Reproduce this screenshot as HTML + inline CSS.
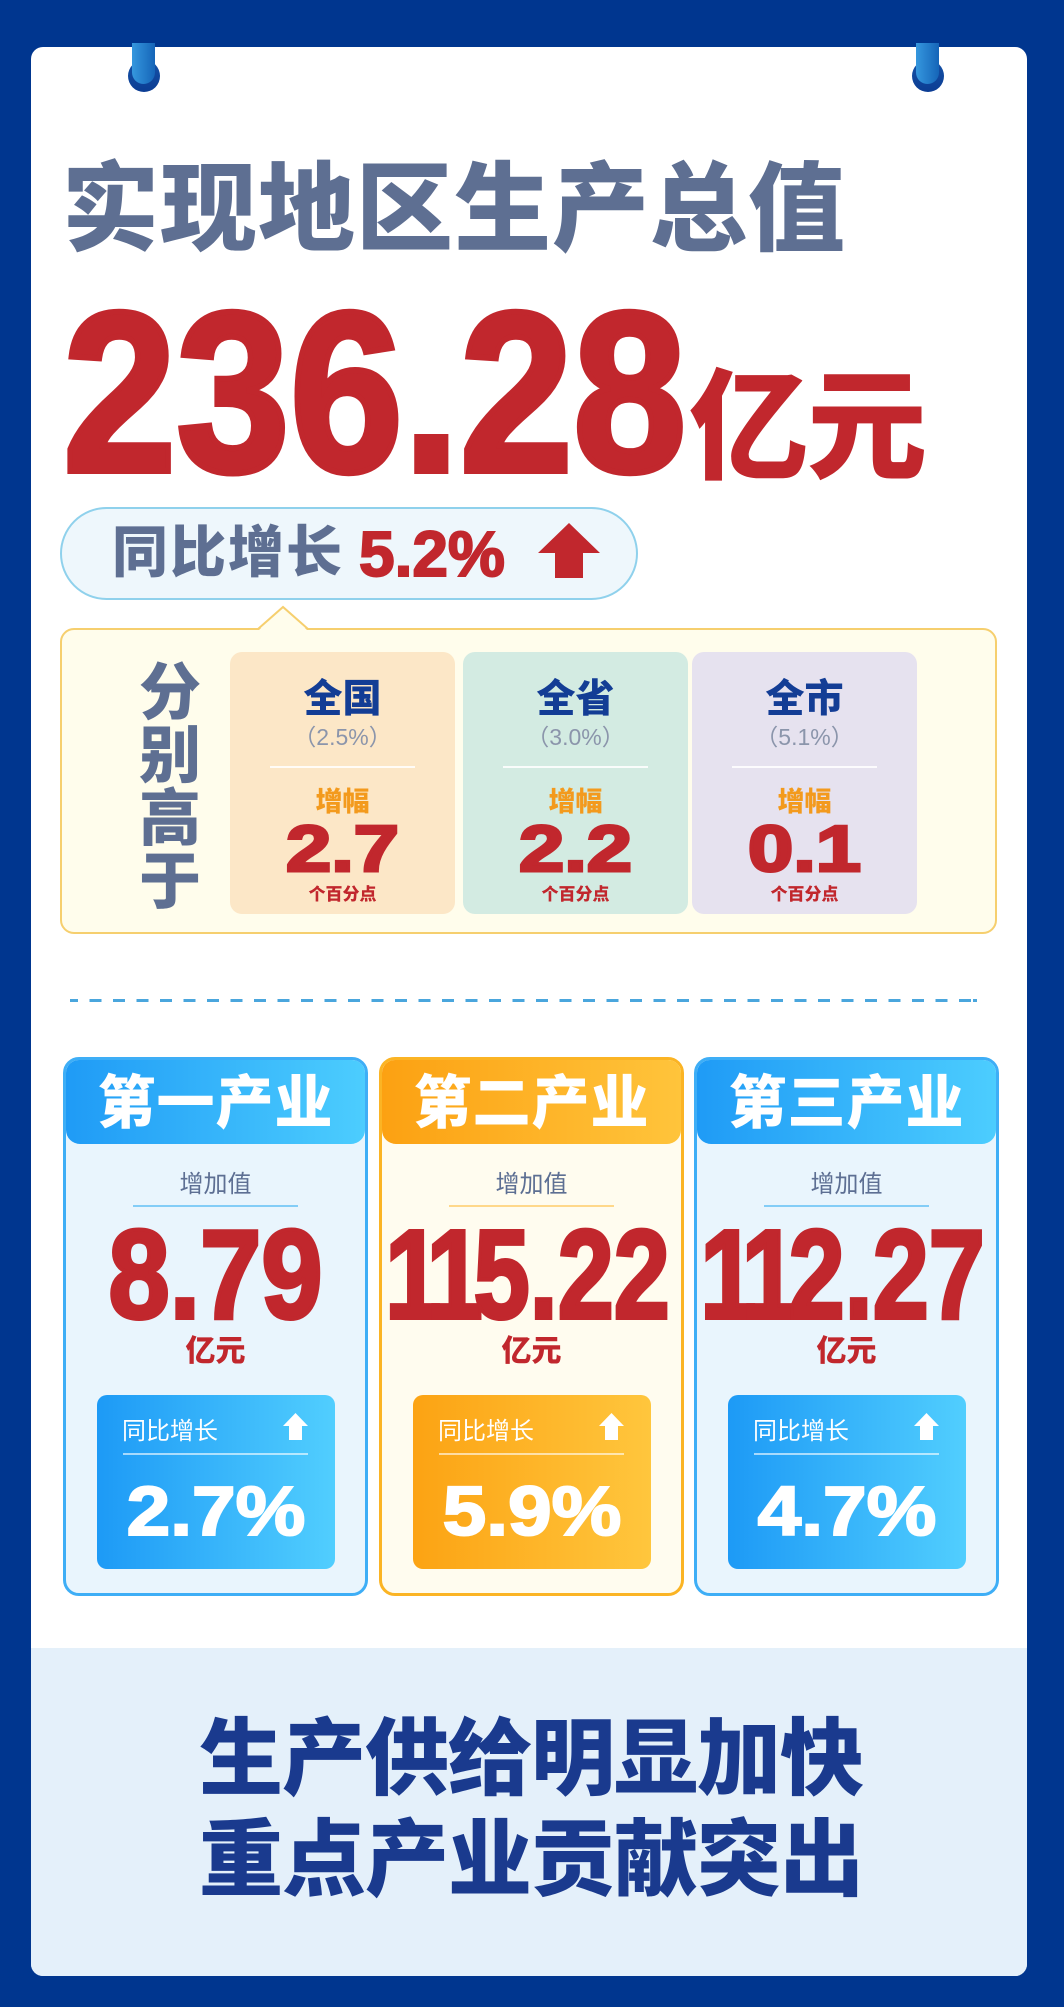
<!DOCTYPE html>
<html><head><meta charset="utf-8">
<style>
*{margin:0;padding:0;box-sizing:border-box}
html,body{width:1064px;height:2007px;overflow:hidden}
body{background:#00368f;position:relative;font-family:"Liberation Sans","Noto Sans CJK SC",sans-serif}
.abs{position:absolute;white-space:nowrap}
.cjk{font-family:"Liberation Sans","Noto Sans CJK SC",sans-serif;font-weight:900}
.num{font-family:"Liberation Sans",sans-serif;font-weight:700}
.o{letter-spacing:-0.09em}
#card{position:absolute;left:31px;top:47px;width:996px;height:1929px;background:#fff;border-radius:12px;overflow:hidden}
#bottom{position:absolute;left:0;top:1601px;width:996px;height:328px;background:#e4f0fa}
.panel{position:absolute;top:652px;width:225px;height:262px;border-radius:12px}
.panel .t{position:absolute;left:0;width:100%;text-align:center;white-space:nowrap}
.panel .p1{top:28px;font-size:39px;line-height:39px;color:#133d95;font-weight:900}
.panel .p2{top:74px;font-size:23px;line-height:23px;color:#8b95ab;font-weight:400}
.panel .pl{position:absolute;left:40px;top:114px;width:145px;height:2px;background:rgba(255,255,255,.85)}
.panel .p3{top:137px;font-size:27px;line-height:27px;color:#f39a1d;font-weight:900}
.panel .p4{top:164px;font-size:65px;line-height:65px;color:#c1272d;-webkit-text-stroke:3px #c1272d;transform-origin:50% 0;font-family:"Liberation Sans",sans-serif;font-weight:700;transform:scaleX(1.25)}
.panel .p5{top:234px;font-size:17px;line-height:17px;color:#c1272d;font-weight:900}
.ic{position:absolute;top:1057px;width:305px;height:539px;border:3px solid #3eaef6;border-radius:16px;overflow:hidden;background:#e9f5fd}
.ic .hd{position:absolute;left:0;top:0;width:100%;height:84px;border-radius:0 0 14px 14px;background:linear-gradient(90deg,#1f9bf6,#4ccdfe);color:#fff;font-size:58px;line-height:58px;padding-top:15px;text-align:center;font-weight:900;letter-spacing:1px}
.ic .lab{position:absolute;left:0;top:113px;width:100%;text-align:center;font-size:24px;line-height:24px;color:#5d6f93}
.ic .ln{position:absolute;left:67px;top:145px;width:165px;height:2px;background:#83cdf7}
.ic .big{position:absolute;left:-100px;top:152px;width:499px;text-align:center;font-size:126px;line-height:126px;color:#c1272d;-webkit-text-stroke:4px #c1272d;transform-origin:50% 0;white-space:nowrap;font-family:"Liberation Sans",sans-serif;font-weight:700}
.ic .unit{position:absolute;left:0;top:277px;width:100%;text-align:center;font-size:30px;line-height:30px;color:#c1272d;font-weight:900}
.ic .box{position:absolute;left:31px;top:335px;width:238px;height:174px;border-radius:10px;background:linear-gradient(90deg,#1d9af6,#51cefe)}
.ic .bl{position:absolute;left:25px;top:25px;font-size:24px;line-height:24px;color:#fff;white-space:nowrap}
.ic .ar{position:absolute;left:186px;top:18px}
.ic .bln{position:absolute;left:26px;top:58px;width:185px;height:2px;background:rgba(255,255,255,.6)}
.ic .pct{position:absolute;left:-50px;top:81px;width:338px;text-align:center;font-size:70px;line-height:70px;color:#fff;-webkit-text-stroke:2px #fff;font-family:"Liberation Sans",sans-serif;font-weight:700;white-space:nowrap;transform:scaleX(1.12);transform-origin:50% 0}
.ic.or{border-color:#fbb424;background:#fffcef}
.ic.or .hd{background:linear-gradient(90deg,#fca112,#ffc43b)}
.ic.or .ln{background:#ffd88a}
.ic.or .box{background:linear-gradient(90deg,#fca313,#ffc63d)}
</style></head><body>

<div id="card">
  <div id="bottom"></div>
</div>

<!-- pins -->
<div class="abs" style="left:128px;top:60px;width:32px;height:32px;border-radius:50%;background:linear-gradient(180deg,#1553a8,#0b3c93)"></div>
<div class="abs" style="left:132px;top:43px;width:23px;height:41px;border-radius:0 0 12px 12px;background:linear-gradient(90deg,#3597de,#1565b8)"></div>
<div class="abs" style="left:912px;top:60px;width:32px;height:32px;border-radius:50%;background:linear-gradient(180deg,#1553a8,#0b3c93)"></div>
<div class="abs" style="left:916px;top:43px;width:23px;height:41px;border-radius:0 0 12px 12px;background:linear-gradient(90deg,#3597de,#1565b8)"></div>

<!-- title -->
<div class="abs cjk" style="left:62px;top:161px;font-size:97px;line-height:97px;color:#5e6f92;letter-spacing:1px">实现地区生产总值</div>

<!-- big number -->
<div class="abs num" style="left:63px;top:279px;font-size:228px;line-height:228px;color:#c1272d;-webkit-text-stroke:6px #c1272d;transform:scaleX(0.894);transform-origin:0 0">236.28</div>
<div class="abs cjk" style="left:689px;top:368px;font-size:120px;line-height:120px;color:#c1272d;letter-spacing:-2px">亿元</div>

<!-- pill -->
<div class="abs" style="left:60px;top:507px;width:578px;height:93px;border:2px solid #8fd1ec;background:#eef7fc;border-radius:47px"></div>
<div class="abs cjk" style="left:112px;top:525px;font-size:56px;line-height:56px;color:#5e6f92;letter-spacing:2px">同比增长</div>
<div class="abs num" style="left:359px;top:522px;font-size:64px;line-height:64px;color:#c1272d;-webkit-text-stroke:2px #c1272d;transform:scaleX(1.0);transform-origin:0 0">5.2%</div>
<svg class="abs" style="left:538px;top:523px" width="62" height="55" viewBox="0 0 62 55"><polygon points="31,0 62,30 45,30 45,55 17,55 17,30 0,30" fill="#c1272d"/></svg>

<!-- yellow box -->
<div class="abs" style="left:60px;top:628px;width:937px;height:306px;border:2px solid #f6cf6e;background:#fffdec;border-radius:14px"></div>
<svg class="abs" style="left:250px;top:600px" width="70" height="34" viewBox="250 600 70 34"><polygon points="258,631 283,607 308,631" fill="#fffdec"/><polyline points="258,629 283,607 308,629" fill="none" stroke="#f6cf6e" stroke-width="2"/></svg>

<div class="abs cjk" style="left:139px;top:662px;width:62px;font-size:62px;line-height:63px;color:#5e6f92;text-align:center;white-space:normal">分<br>别<br>高<br>于</div>

<div class="panel" style="left:230px;background:#fce7c7">
  <div class="t p1">全国</div>
  <div class="t p2">（2.5%）</div>
  <div class="pl"></div>
  <div class="t p3">增幅</div>
  <div class="t p4">2.7</div>
  <div class="t p5">个百分点</div>
</div>
<div class="panel" style="left:463px;background:#d3ebe2">
  <div class="t p1">全省</div>
  <div class="t p2">（3.0%）</div>
  <div class="pl"></div>
  <div class="t p3">增幅</div>
  <div class="t p4">2.2</div>
  <div class="t p5">个百分点</div>
</div>
<div class="panel" style="left:692px;background:#e6e2ef">
  <div class="t p1">全市</div>
  <div class="t p2">（5.1%）</div>
  <div class="pl"></div>
  <div class="t p3">增幅</div>
  <div class="t p4">0.1</div>
  <div class="t p5">个百分点</div>
</div>

<!-- dashed line -->
<div class="abs" style="left:70px;top:999px;width:907px;height:3px;background:repeating-linear-gradient(90deg,#4aa6dd 0 12px,transparent 12px 23.5px);background-position:-4px 0"></div>

<!-- industry cards -->
<div class="ic" style="left:63px">
  <div class="hd">第一产业</div>
  <div class="lab">增加值</div>
  <div class="ln"></div>
  <div class="big" style="transform:scaleX(0.873)">8.79</div>
  <div class="unit">亿元</div>
  <div class="box">
    <div class="bl">同比增长</div>
    <svg class="ar" width="25" height="27" viewBox="0 0 25 27"><polygon points="12.5,0 25,13 19,13 19,27 6,27 6,13 0,13" fill="#fff"/></svg>
    <div class="bln"></div>
    <div class="pct">2.7%</div>
  </div>
</div>
<div class="ic or" style="left:379px">
  <div class="hd">第二产业</div>
  <div class="lab">增加值</div>
  <div class="ln"></div>
  <div class="big" style="transform:scaleX(0.80);left:-104px"><span class="o">1</span><span class="o">1</span>5.22</div>
  <div class="unit">亿元</div>
  <div class="box">
    <div class="bl">同比增长</div>
    <svg class="ar" width="25" height="27" viewBox="0 0 25 27"><polygon points="12.5,0 25,13 19,13 19,27 6,27 6,13 0,13" fill="#fff"/></svg>
    <div class="bln"></div>
    <div class="pct">5.9%</div>
  </div>
</div>
<div class="ic" style="left:694px">
  <div class="hd">第三产业</div>
  <div class="lab">增加值</div>
  <div class="ln"></div>
  <div class="big" style="transform:scaleX(0.80);left:-104px"><span class="o">1</span><span class="o">1</span>2.27</div>
  <div class="unit">亿元</div>
  <div class="box">
    <div class="bl">同比增长</div>
    <svg class="ar" width="25" height="27" viewBox="0 0 25 27"><polygon points="12.5,0 25,13 19,13 19,27 6,27 6,13 0,13" fill="#fff"/></svg>
    <div class="bln"></div>
    <div class="pct">4.7%</div>
  </div>
</div>

<!-- bottom text -->
<div class="abs cjk" style="left:31px;top:1717px;width:1000px;text-align:center;font-size:84px;line-height:84px;color:#1a3a8e;letter-spacing:-1px">生产供给明显加快</div>
<div class="abs cjk" style="left:31px;top:1818px;width:1000px;text-align:center;font-size:84px;line-height:84px;color:#1a3a8e;letter-spacing:-1px">重点产业贡献突出</div>

</body></html>
